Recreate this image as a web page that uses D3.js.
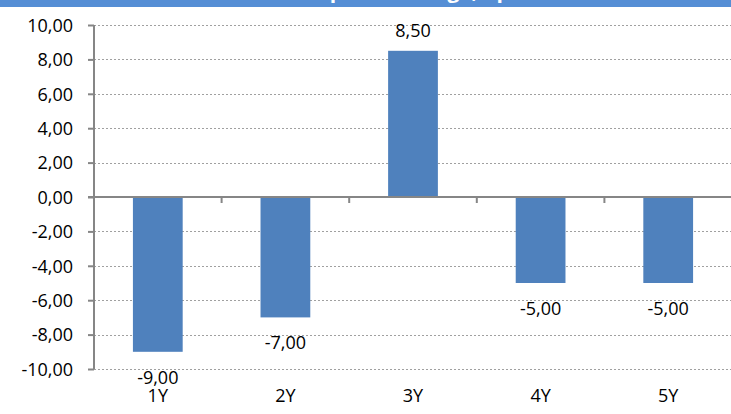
<!DOCTYPE html>
<html>
<head>
<meta charset="utf-8">
<script src="https://cdn.jsdelivr.net/npm/d3@7"></script>
<style>
  html, body { margin: 0; padding: 0; background: #fff; }
  svg { display: block; }
  text { font-family: "Open Sans", "DejaVu Sans", sans-serif; fill: #000; }
</style>
</head>
<body>
<svg id="chart" width="731" height="414"></svg>
<script>
// Chart data
const categories = ["1Y", "2Y", "3Y", "4Y", "5Y"];
const values = [-9.0, -7.0, 8.5, -5.0, -5.0];
const yTicks = [10, 8, 6, 4, 2, 0, -2, -4, -6, -8, -10];
const title = "Spread change, bp";

const W = 731, H = 414;
const plot = { left: 94, right: 732, top: 25, bottom: 369 };

const svg = d3.select("#chart");
const fmt = v => d3.format(".2f")(v).replace(".", ",").replace("−", "-");

// Header band (title text runs off the top edge)
svg.append("defs").append("clipPath").attr("id", "bandClip")
  .append("rect").attr("x", 0).attr("y", 0).attr("width", W).attr("height", 7);
svg.append("rect").attr("x", 0).attr("y", 0).attr("width", W).attr("height", 7)
  .attr("fill", "#558ED5");
svg.append("text")
  .attr("clip-path", "url(#bandClip)")
  .attr("x", 414).attr("y", -2)
  .attr("text-anchor", "middle")
  .style("font-size", "21px").style("font-weight", "bold").style("fill", "#fff")
  .text(title);

const x = d3.scaleBand().domain(categories).range([plot.left, plot.right]).paddingInner(0.61).paddingOuter(0.305);
const xCat = d3.scaleBand().domain(categories).range([plot.left, plot.right]);
const y = d3.scaleLinear().domain([-10, 10]).range([plot.bottom, plot.top]);

// Dotted gridlines
svg.append("g").selectAll("line").data(yTicks.filter(t => t !== 0)).join("line")
  .attr("x1", plot.left).attr("x2", W)
  .attr("y1", d => Math.round(y(d)) + 0.5).attr("y2", d => Math.round(y(d)) + 0.5)
  .attr("stroke", "#a0a0a0").attr("stroke-width", 1).attr("stroke-dasharray", "2,2");

// Bars
svg.append("g").selectAll("rect").data(values).join("rect")
  .attr("x", (d, i) => x(categories[i]))
  .attr("width", x.bandwidth())
  .attr("y", d => y(Math.max(0, d)))
  .attr("height", d => Math.abs(y(d) - y(0)))
  .attr("fill", "#4F81BD");

// Y axis
const yAxis = d3.axisLeft(y).tickValues(yTicks).tickSize(6).tickPadding(15).tickFormat(fmt);
const gy = svg.append("g").attr("transform", `translate(${plot.left},0)`).call(yAxis);
gy.select(".domain").attr("stroke", "#868686").attr("stroke-width", 2)
  .attr("d", `M0,${plot.top}V${plot.bottom}`);
gy.selectAll(".tick line").attr("stroke", "#868686").attr("stroke-width", 2);
gy.selectAll(".tick text").style("font-size", "18px").attr("fill", "#000")
  .attr("font-family", null).attr("dy", "0.35em");

// Zero line with category ticks
const gx = svg.append("g").attr("transform", `translate(0,${y(0)})`);
gx.append("line").attr("x1", plot.left - 6).attr("x2", W).attr("y1", 0).attr("y2", 0)
  .attr("stroke", "#868686").attr("stroke-width", 2);
gx.selectAll("line.tk").data(categories.slice(1)).join("line").attr("class", "tk")
  .attr("x1", d => xCat(d)).attr("x2", d => xCat(d)).attr("y1", 0).attr("y2", 6)
  .attr("stroke", "#868686").attr("stroke-width", 2);

// Category labels at the bottom
svg.append("g").selectAll("text").data(categories).join("text")
  .attr("x", d => xCat(d) + xCat.bandwidth() / 2)
  .attr("y", 402)
  .attr("text-anchor", "middle")
  .style("font-size", "18px")
  .text(d => d);

// Value labels
svg.append("g").selectAll("text").data(values).join("text")
  .attr("x", (d, i) => x(categories[i]) + x.bandwidth() / 2)
  .attr("y", d => d >= 0 ? y(d) - 14 : y(d) + 32)
  .attr("text-anchor", "middle")
  .style("font-size", "18px")
  .text(d => fmt(d));
</script>
</body>
</html>
